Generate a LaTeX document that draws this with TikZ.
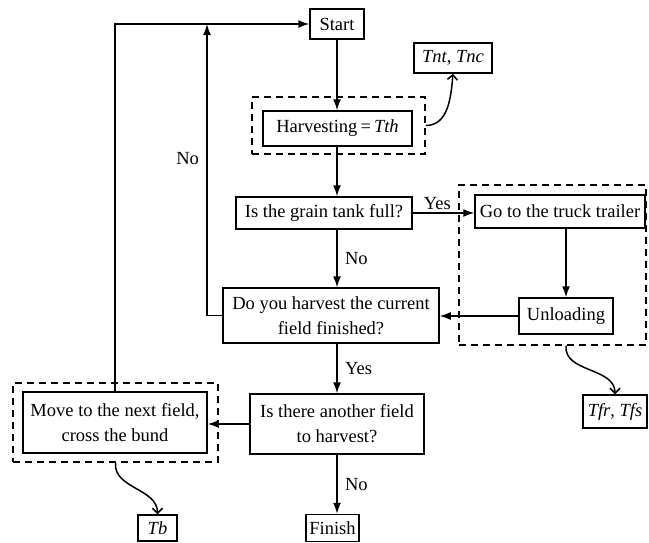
\documentclass[tikz,border=0pt]{standalone}
\usepackage{fontspec}
\setmainfont{Liberation Serif}
\usetikzlibrary{positioning,calc,arrows.meta}

\begin{document}
\begin{tikzpicture}[x=1pt, y=1pt, font=\fontsize{18.5}{25}\selectfont]
    % Setup the styles for the boxes and arrows
        \tikzset{box style/.style={draw,
                                   line width=1.5pt,
                                   align=center,
                                   inner sep=2pt},
                 group style/.style={draw,
                                     line width=1.5pt,
                                     dash pattern=on 7pt off 5pt},
                 flow style/.style={line width=1.5pt,
                                    -{Latex[length=11pt,width=8pt]}},
                 note style/.style={line width=1.5pt,
                                    -{Straight Barb[length=5pt,width=10pt]}}}
        \useasboundingbox (0,0) rectangle (649,-542);
        \coordinate (axis) at (337,0);
        \coordinate (loopend) at (207,-24);
        % Draw the dashed groups
        \node[group style, minimum width=173, minimum height=57] at (338.5,-125.5) (harvgroup) {};
        \node[group style, minimum width=187, minimum height=160] at (552.5,-265)   (loadgroup) {};
        \node[group style, minimum width=205, minimum height=79]  at (115.5,-422.5) (movegroup) {};
        % Draw the boxes
        \node[box style, minimum width=54,  minimum height=30] at (337,-24)     (start)   {Start};
        \node[box style, minimum width=78,  minimum height=30] at (453,-58)     (tnt)     {\textit{Tnt}, \textit{Tnc}};
        \node[box style, minimum width=149, minimum height=35] at (337.5,-128.5) (harv)   {Harvesting\,=\,\textit{Tth}};
        \node[box style, minimum width=176, minimum height=32] at (324,-213)    (tank)    {Is the grain tank full?};
        \node[box style, minimum width=216, minimum height=55] at (331,-315.5)  (doyou)   {Do you harvest the current\\field finished?};
        \node[box style, minimum width=170, minimum height=33] at (560,-211.5)  (go)      {Go to the truck trailer};
        \node[box style, minimum width=94,  minimum height=36] at (566,-316)    (unload)  {Unloading};
        \node[box style, minimum width=64,  minimum height=33] at (615,-411.5)  (tfr)     {\textit{Tfr}, \textit{Tfs}};
        \node[box style, minimum width=174, minimum height=60] at (337,-424)    (another) {Is there another field\\to harvest?};
        \node[box style, minimum width=184, minimum height=61] at (115,-422.5)  (move)    {Move to the next field,\\cross the bund};
        \node[box style, minimum width=39,  minimum height=26] at (157.5,-528)  (tb)      {\textit{Tb}};
        \node[box style, minimum width=53,  minimum height=27] at (332.5,-528)  (finish)  {Finish};
        % Connect the boxes with arrows
        \path[flow style]
        (start) edge (start |- harv.north)
        (harv.south -| axis) edge (tank.north -| axis)
        (tank.south -| axis) edge node[right=4pt]{No} (doyou.north -| axis)
        (tank.east) edge node[pos=0.4, above=-1pt]{Yes} (tank.east -| go.west)
        (go.south -| unload) edge (unload)
        (unload) edge (unload -| doyou.east)
        (doyou.south -| axis) edge node[right=4pt]{Yes} (another.north -| axis)
        (another.west) edge (another.west -| move.east)
        (another.south -| axis) edge node[right=4pt]{No} (finish.north -| axis);
        \draw[flow style] (doyou.west) -| (loopend) node[pos=0.77, left=4pt]{No};
        \draw[flow style] (move.north) |- (start.west);
        % Draw the time annotations
        \draw[note style] (harvgroup.east) to[out=0, in=-95] (tnt.south);
        \draw[note style] (loadgroup.south -| unload) to[out=-95, in=90] (tfr.north);
        \draw[note style] (movegroup.south) to[out=-95, in=90] (tb.north);
\end{tikzpicture}
\end{document}
